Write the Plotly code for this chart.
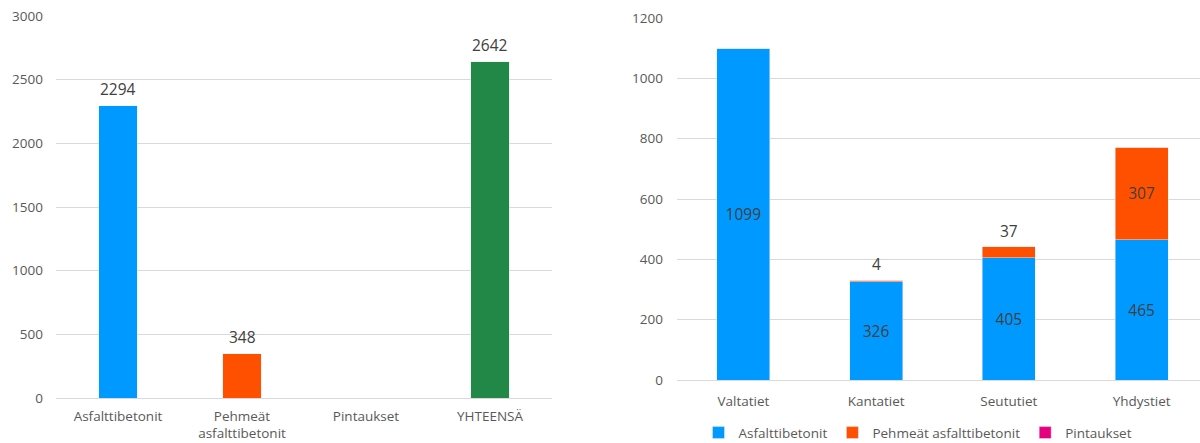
import plotly.graph_objects as go

# Left chart: totals by pavement type
types = ["Asfalttibetonit", "Pehmeät<br>asfalttibetonit", "Pintaukset", "YHTEENSÄ"]
type_values = [2294, 348, 0, 2642]
type_colors = ["#0099FF", "#FF5000", "#E6007E", "#218847"]

# Right chart: by road class, stacked by pavement type
roads = ["Valtatiet", "Kantatiet", "Seututiet", "Yhdystiet"]
asfaltti = [1099, 326, 405, 465]
pehmea = [0, 4, 37, 307]
pintaus = [0, 0, 0, 0]

left_ticks = [0, 500, 1000, 1500, 2000, 2500, 3000]
right_ticks = [0, 200, 400, 600, 800, 1000, 1200]

BLUE, ORANGE, PINK = "#0099FF", "#FF5000", "#E6007E"
FONT = "Open Sans"
GRID = "#D9D9D9"
TICK_COLOR = "#595959"
LABEL_COLOR = "#404040"
label_font = dict(size=15.5, color=LABEL_COLOR, family=FONT)

fig = go.Figure()

fig.add_trace(go.Bar(
    x=types, y=type_values, marker_color=type_colors, width=0.31,
    xaxis="x", yaxis="y", showlegend=False, hoverinfo="x+y",
))

fig.add_trace(go.Bar(
    x=roads, y=asfaltti, name="Asfalttibetonit", marker_color=BLUE, width=0.4,
    text=[str(v) for v in asfaltti], textposition="inside", insidetextanchor="middle",
    textfont=label_font, xaxis="x2", yaxis="y2",
))
# Orange labels: inside when the segment is tall, otherwise placed above the stack
peh_inside = ["" if v < 100 else str(v) for v in pehmea]
fig.add_trace(go.Bar(
    x=roads, y=pehmea, name="Pehmeät asfalttibetonit", marker_color=ORANGE, width=0.4,
    text=peh_inside, textposition="inside", insidetextanchor="middle",
    textfont=label_font, xaxis="x2", yaxis="y2",
))
fig.add_trace(go.Bar(
    x=roads, y=pintaus, name="Pintaukset", marker_color=PINK, width=0.4,
    xaxis="x2", yaxis="y2",
))

annotations = []
for cat, v in zip(types, type_values):
    if v > 0:
        annotations.append(dict(
            x=cat, y=v, xref="x", yref="y", text=str(v), showarrow=False,
            yanchor="bottom", yshift=4, font=label_font,
        ))
for cat, a, p in zip(roads, asfaltti, pehmea):
    if 0 < p < 100:
        annotations.append(dict(
            x=cat, y=a + p, xref="x2", yref="y2", text=str(p), showarrow=False,
            yanchor="bottom", yshift=3, font=label_font,
        ))

axis_font = dict(size=13.5, color=TICK_COLOR, family=FONT)

fig.update_layout(
    width=1200, height=443,
    margin=dict(l=0, r=0, t=0, b=0, autoexpand=False),
    paper_bgcolor="white", plot_bgcolor="white",
    barmode="stack",
    font=dict(family=FONT, color=TICK_COLOR),
    annotations=annotations,
    xaxis=dict(domain=[56 / 1200, 552 / 1200], anchor="y", showgrid=False,
               showline=False, ticks="", tickfont=axis_font, automargin=False,
               ticklabelstandoff=8, fixedrange=True),
    yaxis=dict(domain=[45 / 443, 427 / 443], anchor="x", range=[0, 3000],
               tickvals=left_ticks, gridcolor=GRID, gridwidth=1,
               zeroline=True, zerolinecolor=GRID, zerolinewidth=1,
               showline=False, ticks="", tickfont=axis_font, automargin=False,
               ticklabelstandoff=12),
    xaxis2=dict(domain=[677 / 1200, 1.0], anchor="y2", range=[-0.5, 3.44],
                showgrid=False, showline=False, ticks="", tickfont=axis_font,
                automargin=False, ticklabelstandoff=11),
    yaxis2=dict(domain=[63 / 443, 425 / 443], anchor="x2", range=[0, 1200],
                tickvals=right_ticks, gridcolor=GRID, gridwidth=1,
                zeroline=True, zerolinecolor=GRID, zerolinewidth=1,
                showline=False, ticks="", tickfont=axis_font, automargin=False,
                ticklabelstandoff=13),
    legend=dict(orientation="h", traceorder="normal", x=0.765, y=-0.012,
                xanchor="center", yanchor="bottom",
                font=dict(size=13.5, color=TICK_COLOR, family=FONT),
                itemwidth=30, tracegroupgap=0),
)

fig.write_html("out.html")
